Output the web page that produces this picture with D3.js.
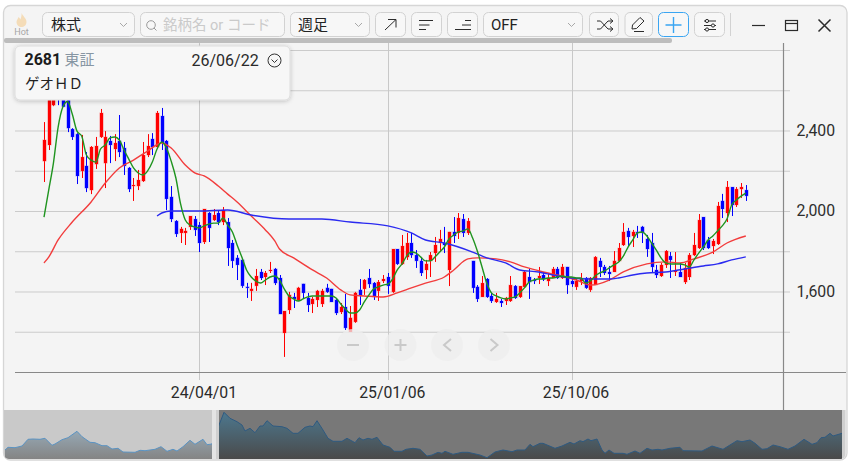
<!DOCTYPE html>
<html lang="ja">
<head>
<meta charset="utf-8">
<title>2681 週足</title>
<script src="https://cdn.jsdelivr.net/npm/d3@7/dist/d3.min.js"></script>
<style>
html,body{margin:0;padding:0;background:#fff;overflow:hidden}
svg{display:block}
text{font-family:Roboto,"Noto Sans CJK JP",sans-serif}
</style>
</head>
<body>
<svg id="chart" width="852" height="463"></svg>
<script>
// Weekly OHLC prices, oldest first
const opens = [
2247,2327,2525,2640,2620,2550,2406,2381,2198,2223,
2103,2232,2367,2237,2347,2307,2347,2312,2213,2123,
2123,2148,2277,2357,2317,2471,2347,2069,1949,1890,
1890,1920,1959,1929,1845,1989,1954,1989,1944,1944,
1840,1766,1756,1622,1602,1627,1696,1671,1701,1711,
1666,1393,1507,1572,1557,1637,1567,1537,1557,1537,
1617,1612,1557,1497,1522,1398,1448,1607,1612,1666,
1641,1602,1651,1671,1597,1810,1736,1770,1840,1780,
1751,1706,1751,1790,1840,1840,1706,1895,1890,1959,
1890,1751,1622,1572,1661,1577,1547,1552,1552,1552,
1626,1572,1622,1671,1656,1666,1681,1651,1666,1711,
1666,1721,1651,1622,1651,1666,1607,1631,1751,1721,
1696,1696,1751,1830,1900,1875,1895,1920,1860,1840,
1706,1676,1731,1775,1696,1696,1646,1671,1780,1815,
1969,1855,1825,1835,2049,1989,2118,2029,2108,2103];
const highs = [
2441,2620,2590,2650,2640,2560,2411,2386,2377,2292,
2322,2367,2506,2396,2372,2381,2476,2342,2218,2163,
2203,2342,2381,2386,2496,2511,2352,2123,1954,1920,
1915,1974,1974,1944,2009,1994,2009,1999,2019,1964,
1855,1780,1766,1642,1642,1711,1711,1701,1746,1716,
1681,1502,1597,1592,1622,1637,1592,1572,1607,1612,
1637,1612,1562,1542,1587,1527,1597,1661,1661,1711,
1646,1656,1681,1691,1810,1810,1880,1890,1890,1805,
1766,1756,1795,1870,1905,1920,1895,1969,1989,1984,
1964,1751,1631,1676,1666,1592,1592,1562,1572,1676,
1631,1626,1701,1711,1666,1721,1696,1691,1721,1721,
1736,1721,1666,1666,1691,1671,1671,1775,1766,1731,
1726,1800,1840,1939,1915,1905,1925,1925,1880,1890,
1731,1741,1805,1795,1795,1741,1741,1790,1890,1984,
1969,1870,1860,2044,2084,2148,2118,2118,2138,2128];
const lows = [
2143,2302,2520,2525,2516,2391,2352,2133,2163,2093,
2083,2208,2362,2113,2237,2247,2267,2178,2093,2049,
2103,2143,2267,2277,2312,2302,2004,1944,1870,1840,
1830,1905,1875,1795,1835,1845,1949,1929,1929,1726,
1716,1656,1617,1567,1552,1602,1656,1631,1691,1631,
1487,1274,1487,1517,1552,1562,1497,1492,1522,1522,
1592,1547,1482,1487,1408,1398,1443,1532,1582,1617,
1557,1552,1641,1587,1592,1731,1731,1756,1766,1716,
1676,1661,1671,1746,1795,1790,1626,1840,1860,1870,
1880,1592,1547,1572,1567,1542,1542,1522,1532,1547,
1562,1567,1622,1562,1636,1636,1651,1626,1666,1661,
1661,1587,1622,1607,1631,1612,1597,1631,1671,1681,
1651,1696,1746,1825,1825,1820,1865,1840,1771,1691,
1666,1671,1716,1666,1676,1671,1636,1656,1775,1810,
1805,1810,1785,1830,1964,1944,1974,2019,2064,2049];
const closes = [
2352,2600,2575,2590,2517,2411,2367,2173,2267,2113,
2317,2322,2486,2367,2327,2337,2292,2223,2108,2128,
2153,2277,2322,2317,2486,2337,2059,1959,1885,1910,
1900,1974,1905,1840,2009,1915,1979,1944,2004,1815,
1751,1731,1627,1617,1612,1676,1666,1691,1706,1641,
1487,1502,1582,1562,1617,1592,1532,1562,1602,1602,
1597,1547,1492,1522,1418,1468,1592,1577,1656,1636,
1572,1646,1661,1627,1810,1736,1825,1840,1780,1751,
1691,1736,1780,1830,1860,1830,1895,1875,1964,1890,
1949,1617,1562,1641,1572,1552,1562,1542,1567,1631,
1567,1626,1696,1646,1651,1676,1661,1666,1711,1666,
1721,1631,1636,1651,1666,1617,1666,1770,1721,1691,
1686,1751,1815,1895,1870,1895,1890,1890,1810,1721,
1681,1731,1800,1756,1703,1671,1716,1780,1830,1954,
1815,1815,1850,2024,2009,2118,2029,2108,2118,2074];

// Short moving average, one reading per candle
const maShort = [
1969,2103,2237,2416,2516,2543,2481,2396,2372,2277,
2252,2242,2307,2327,2362,2367,2352,2302,2257,2213,
2188,2178,2198,2242,2307,2342,2312,2247,2163,2034,
1954,1929,1920,1915,1925,1934,1939,1939,1964,1929,
1895,1830,1770,1706,1671,1651,1641,1656,1671,1676,
1656,1612,1577,1562,1552,1562,1572,1577,1577,1577,
1577,1577,1567,1537,1512,1492,1492,1507,1547,1582,
1612,1622,1631,1636,1661,1706,1736,1775,1795,1790,
1770,1751,1751,1770,1795,1820,1860,1880,1895,1900,
1910,1865,1800,1721,1641,1592,1577,1567,1562,1567,
1572,1592,1617,1646,1656,1661,1661,1666,1666,1671,
1676,1671,1671,1666,1666,1641,1651,1676,1691,1701,
1716,1731,1746,1775,1820,1855,1890,1895,1875,1840,
1805,1766,1741,1736,1736,1736,1731,1721,1756,1790,
1820,1855,1875,1900,1925,1959,2029,2054,2073,2088];

// Medium and long moving averages, read at the candle indices listed beside them
const maMediumIdx = [0,1,3,6,10,13,16,19,22,25,27,30,32,34,37,39,41,44,47,49,50,53,57,60,63,65,68,72,75,78,81,85,87,90,92,96,99,102,106,110,113,116,120,123,128,132,135,138,142,145,149];
const maMedium = [1741,1770,1855,1944,2044,2138,2213,2252,2297,2337,2312,2227,2188,2173,2123,2083,2044,1974,1905,1850,1810,1766,1706,1666,1607,1582,1577,1572,1592,1617,1641,1671,1706,1761,1766,1761,1746,1721,1696,1676,1656,1631,1656,1696,1736,1746,1741,1761,1795,1840,1875];
const maLongIdx = [24,25,27,33,39,44,52,59,65,73,78,81,85,91,94,98,101,105,108,112,116,120,122,125,128,132,136,140,143,146,149];
const maLong = [1974,1989,1999,1999,2004,1979,1959,1959,1944,1925,1890,1855,1840,1795,1766,1741,1706,1696,1681,1666,1661,1661,1666,1681,1691,1696,1711,1726,1736,1756,1771];

// Axis contents
const gridPrices = [1400,1600,1800,2000,2200,2400,2600,2800];
const labelPrices = [1600,2000,2400];
const dateTickIdx = [33,73,112];
const dateTickLabels = ["24/04/01","25/01/06","25/10/06"];

// Long history shown in the overview strip: week position and relative level
const historyWeek = [1,4,11,18,24,29,36,41,48,51,58,64,73,78,86,91,98,103,108,114,119,131,136,141,151,157,163,169,173,179,186,191,199,203,208,215,220,226,233,238,241,246,251,256,259,263,269,278,283,289,294,301,306,309,313,319,324,329,338,343,351,355,359,364,368,373,379,386,390,398,402,409,416,423,428,434,438,441,449,458,464,476,483,491,499,508,513,521,526,529,536,539,551,558,566,570,576,579,584,587,593,598,601,605,610,619,623,631,636,643,648,654,658,666,676,679,698,708,719,733,738,746,751,758,763,769,776,784,791,800,808,813,817,821,826,829,838];
const historyLevel = [9,11.7,11.3,13,19.7,20,19.7,20.7,13.7,15,19.3,21.3,27.7,22.3,16.7,16.3,13.3,13.3,10,10.7,7,6.7,8.7,8.3,9.7,12.3,7.7,9.7,8,12.3,18.7,14.7,19.7,14.3,15,34,46.7,40.7,37.3,34,28,30.7,26.3,33,33,38.3,33,32.3,30.7,25.7,25.7,31.7,33,32.3,38.3,29,20.7,17.7,17.7,20.7,16.3,21.3,19,20.7,19.7,21.7,14,11.7,7.7,7.7,9.7,10.7,9.7,3,4,6.7,5.7,7.7,4.7,6.7,6.7,4,1.3,7,9,7.3,9,9,14.7,12.3,15.7,15.7,10.7,13,16.7,15,18.3,17.3,20,18.3,20,9,5.7,9,5.7,5.7,4.7,8,5.7,10.7,9,9.7,9,10.7,11.7,8.3,8,13,9.7,18.3,17.3,19,15.7,9.7,10.3,14,12.3,9.7,13,19.7,14.7,16.3,21.3,21.7,25.7,23,25.7];

const svg = d3.select("#chart");
const defs = svg.append("defs");

// Scales for the price pane and the overview strip
const x = d3.scaleLinear().domain([0, opens.length - 1]).range([44, 745.8]);
const y = d3.scaleLinear().domain([1600, 2400]).range([291.3, 130.3]);
const histX = d3.scaleLinear().domain([0, 838]).range([4, 842]);
const histY = d3.scaleLinear().domain([0, 49]).range([459, 410]);

const BG = "#f4f4f4";
const crisp = v => Math.round(v) + 0.5;

// Window frame
svg.append("rect").attr("x", 3.5).attr("y", 5.5).attr("width", 843.5).attr("height", 454.5)
  .attr("rx", 7).attr("fill", BG).attr("stroke", "#d6d6d6").attr("stroke-width", 1.3);

// Grid
const pane = svg.append("g");
const hGrid = d3.axisRight(y).tickValues(gridPrices).tickSize(775).tickFormat("");
pane.append("g").attr("transform", "translate(15,0.2)").call(hGrid)
  .call(g => g.select(".domain").remove())
  .call(g => g.selectAll("line").attr("stroke", "#cbcbcb"));

pane.selectAll("line.vgrid").data(dateTickIdx).join("line").attr("class", "vgrid")
  .attr("x1", d => crisp(x(d))).attr("x2", d => crisp(x(d)))
  .attr("y1", 43).attr("y2", 380).attr("stroke", "#c8c8c8");

// Axis frame
pane.append("line").attr("x1", 15).attr("x2", 846).attr("y1", 372.5).attr("y2", 372.5).attr("stroke", "#888").attr("stroke-width", 1.2);
pane.append("line").attr("x1", 783.5).attr("x2", 783.5).attr("y1", 43).attr("y2", 410).attr("stroke", "#888").attr("stroke-width", 1.2);

// Candles
defs.append("clipPath").attr("id", "paneClip").append("rect")
  .attr("x", 15).attr("y", 43).attr("width", 768).attr("height", 329);
const candleLayer = svg.append("g").attr("clip-path", "url(#paneClip)");
const idx = d3.range(opens.length);
const isUp = i => closes[i] >= opens[i];
const body = 3.2;

candleLayer.selectAll("line.wick").data(idx).join("line").attr("class", "wick")
  .attr("x1", i => Math.round(x(i)) + 0.5).attr("x2", i => Math.round(x(i)) + 0.5)
  .attr("y1", i => y(highs[i])).attr("y2", i => y(lows[i]))
  .attr("stroke", i => isUp(i) ? "#f00" : "#00f").attr("stroke-width", 1);

candleLayer.selectAll("rect.body").data(idx).join("rect").attr("class", "body")
  .attr("x", i => Math.round(x(i)) + 0.5 - body / 2).attr("width", body)
  .attr("y", i => y(Math.max(opens[i], closes[i])))
  .attr("height", i => Math.max(1, Math.abs(y(opens[i]) - y(closes[i]))))
  .attr("fill", i => isUp(i) ? "#f00" : "#00f")
  .attr("stroke", i => isUp(i) ? "rgba(255,120,120,.28)" : "rgba(120,120,255,.28)")
  .attr("stroke-width", 1.4).attr("paint-order", "stroke");

// Moving averages
const lineGen = d3.line().x(d => x(d[0])).y(d => y(d[1])).curve(d3.curveMonotoneX);
const maLayer = svg.append("g").attr("clip-path", "url(#paneClip)").attr("fill", "none");
maLayer.append("path").attr("d", lineGen(d3.zip(maMediumIdx, maMedium))).attr("stroke", "#f23c3c").attr("stroke-width", 1.4);
maLayer.append("path").attr("d", lineGen(d3.zip(maLongIdx, maLong))).attr("stroke", "#2a2af0").attr("stroke-width", 1.4);
maLayer.append("path").attr("d", lineGen(d3.zip(idx, maShort))).attr("stroke", "#1f941f").attr("stroke-width", 1.4);

// Axis labels
const labelAxis = d3.axisRight(y).tickValues(labelPrices).tickSize(0).tickPadding(0).tickFormat(d3.format(","));
svg.append("g").attr("transform", "translate(796.5,0)").call(labelAxis)
  .call(g => g.select(".domain").remove())
  .call(g => g.selectAll("text").attr("font-size", 15.8).attr("fill", "#2e2e2e").style("font-family", "Roboto"));

svg.append("g").selectAll("text").data(dateTickIdx).join("text")
  .attr("x", d => x(d) + 4.5).attr("y", 397.5).attr("text-anchor", "middle")
  .attr("font-size", 15.8).attr("fill", "#2a2a2a")
  .text((d, i) => dateTickLabels[i]);

// Zoom and pan buttons floating over the pane
const zoomButtons = [353, 400.5, 447, 494];
svg.append("g").selectAll("circle").data(zoomButtons).join("circle")
  .attr("cx", d => d).attr("cy", 345).attr("r", 16).attr("fill", "#eeeeee").attr("opacity", .75);
const btn = svg.append("g").attr("fill", "none").attr("stroke", "#c9c9c9").attr("stroke-width", 2);
btn.append("path").attr("d", "M347 345H359");
btn.append("path").attr("d", "M394.5 345H406.5M400.5 339V351");
btn.append("path").attr("d", "M451 339L444 345L451 351");
btn.append("path").attr("d", "M490.5 339L497.5 345L490.5 351");

// Overview strip
const stripLeft = 4, stripSplitA = 212, stripSplitB = 219, stripRight = 842;
const gradL = defs.append("linearGradient").attr("id", "histL").attr("gradientUnits", "userSpaceOnUse")
  .attr("x1", 0).attr("x2", 0).attr("y1", 410).attr("y2", 459);
gradL.append("stop").attr("offset", 0).attr("stop-color", "#a4c4da");
gradL.append("stop").attr("offset", 1).attr("stop-color", "#848484");
const gradR = defs.append("linearGradient").attr("id", "histR").attr("gradientUnits", "userSpaceOnUse")
  .attr("x1", 0).attr("x2", 0).attr("y1", 410).attr("y2", 459);
gradR.append("stop").attr("offset", 0).attr("stop-color", "#4d7a92");
gradR.append("stop").attr("offset", 1).attr("stop-color", "#4a4a4a");

defs.append("clipPath").attr("id", "stripL").append("rect").attr("x", stripLeft).attr("y", 410).attr("width", stripSplitA - stripLeft).attr("height", 49);
defs.append("clipPath").attr("id", "stripR").append("rect").attr("x", stripSplitB).attr("y", 410).attr("width", stripRight - stripSplitB).attr("height", 49);
defs.append("clipPath").attr("id", "stripRound").append("rect").attr("x", 4).attr("y", 395).attr("width", 841.5).attr("height", 64).attr("rx", 5);
const strip = svg.append("g").attr("clip-path", "url(#stripRound)");

strip.append("rect").attr("x", stripLeft).attr("y", 410).attr("width", stripSplitA - stripLeft).attr("height", 49).attr("fill", "#c9c9c9");
strip.append("rect").attr("x", stripSplitB).attr("y", 410).attr("width", stripRight - stripSplitB).attr("height", 49).attr("fill", "#787878");
strip.append("rect").attr("x", stripSplitA).attr("y", 410).attr("width", stripSplitB - stripSplitA).attr("height", 49).attr("fill", "#e4e4e4");
strip.append("rect").attr("x", stripSplitA + 4).attr("y", 410).attr("width", 3).attr("height", 49).attr("fill", "#d0d0d0");
strip.append("rect").attr("x", stripRight).attr("y", 410).attr("width", 4).attr("height", 49).attr("fill", "#cfcfcf");

const hist = d3.zip(historyWeek, historyLevel);
const histArea = d3.area().x(d => histX(d[0])).y0(459).y1(d => histY(d[1]));
const histLine = d3.line().x(d => histX(d[0])).y(d => histY(d[1]));
strip.append("path").attr("clip-path", "url(#stripL)").attr("d", histArea(hist)).attr("fill", "url(#histL)");
strip.append("path").attr("clip-path", "url(#stripL)").attr("d", histLine(hist)).attr("fill", "none").attr("stroke", "#5b93c2");
strip.append("path").attr("clip-path", "url(#stripR)").attr("d", histArea(hist)).attr("fill", "url(#histR)");
strip.append("path").attr("clip-path", "url(#stripR)").attr("d", histLine(hist)).attr("fill", "none").attr("stroke", "#2f5a80");

// Info card with a soft shadow
const shadow = defs.append("filter").attr("id", "cardShadow").attr("x", "-5%").attr("y", "-20%").attr("width", "110%").attr("height", "140%");
shadow.append("feDropShadow").attr("dx", 0).attr("dy", 1).attr("stdDeviation", 2).attr("flood-color", "#000").attr("flood-opacity", .22);
svg.append("rect").attr("x", 15).attr("y", 46).attr("width", 275).attr("height", 54).attr("rx", 5)
  .attr("fill", "#f7f7f7").attr("stroke", "#dddddd").attr("filter", "url(#cardShadow)");
svg.append("text").attr("x", 24.5).attr("y", 65).attr("font-size", 16).attr("font-weight", 700).attr("fill", "#1c1c1c").text("2681");
svg.append("text").attr("x", 64.5).attr("y", 65).attr("font-size", 15).attr("fill", "#8796a3").text("東証");
svg.append("text").attr("x", 191.5).attr("y", 65.5).attr("font-size", 16).attr("fill", "#2a2a2a").text("26/06/22");
svg.append("circle").attr("cx", 274.5).attr("cy", 60.5).attr("r", 6.5).attr("fill", "none").attr("stroke", "#333");
svg.append("path").attr("d", "M271.5 59.5L274.5 62.5L277.5 59.5").attr("fill", "none").attr("stroke", "#333");
svg.append("text").attr("x", 25).attr("y", 89).attr("font-size", 14.5).attr("fill", "#222").text("ゲオＨＤ");

// Scrollbar under the toolbar
svg.append("rect").attr("x", 4).attr("y", 38).attr("width", 668).attr("height", 5).attr("rx", 2).attr("fill", "#bdbdbd");

// Toolbar controls
const toolbar = svg.append("g");
const controls = [
  [42, 134], [140, 284], [290, 369], [375, 405], [411, 441], [447, 477],
  [483, 582], [589, 618], [624.5, 652], [694, 724]
];
toolbar.selectAll("rect.ctl").data(controls).join("rect").attr("class", "ctl")
  .attr("x", d => d[0] + 0.5).attr("y", 12.5).attr("width", d => d[1] - d[0]).attr("height", 24).attr("rx", 5)
  .attr("fill", "#f7f7f7").attr("stroke", "#d2d2d2");
toolbar.append("rect").attr("x", 658.5).attr("y", 12.5).attr("width", 30).attr("height", 24).attr("rx", 5)
  .attr("fill", "#f7f7f7").attr("stroke", "#3aa5f2");
toolbar.append("path").attr("d", "M730.5 13V36").attr("stroke", "#d2d2d2");

const tbText = (tx, s, fill, extra) => toolbar.append("text").attr("x", tx).attr("y", 29.5)
  .attr("font-size", 15).attr("fill", fill).text(s).call(t => extra && extra(t));
tbText(51, "株式", "#222");
tbText(163, "銘柄名 or コード", "#cacaca", t => t.attr("font-size", 14.5));
tbText(298, "週足", "#222");
tbText(491, "OFF", "#222");

// Select chevrons
const chevrons = [123.5, 358.5, 571.5];
toolbar.selectAll("path.chev").data(chevrons).join("path").attr("class", "chev")
  .attr("d", d => `M${d - 3.5} 23L${d} 26.5L${d + 3.5} 23`).attr("fill", "none").attr("stroke", "#a8a8a8");

// Toolbar icons
const ic = toolbar.append("g").attr("fill", "none").attr("stroke", "#2b2b2b");
ic.append("circle").attr("cx", 151).attr("cy", 25).attr("r", 4.3).attr("stroke", "#9a9a9a");
ic.append("path").attr("d", "M154 28L156.5 30.5").attr("stroke", "#9a9a9a");
ic.append("path").attr("d", "M385 30L396 19.5M388 19.5H396V27.5");
ic.append("path").attr("d", "M419 20.5H433M419 25H429.5M419 29.5H426");
ic.append("path").attr("d", "M455 29.5H471M462 25H471M465 20.5H471");
ic.append("path").attr("d", "M597 21H600.5L608 29H612M597 29H600.5L608 21H612M610 18.5L613 21L610 23.5M610 26.5L613 29L610 31.5");
ic.append("path").attr("d", "M632 29L632.5 25L640 17.5L644 21L636.5 28.5L632 29M634 31.5H644");
ic.append("path").attr("d", "M673.5 17V33M665.5 25H681.5").attr("stroke", "#3aa5f2").attr("stroke-width", 1.4);
ic.append("path").attr("d", "M704 21H716M704 25.5H716M704 29.5H716");
ic.selectAll("circle.knob").data([[707, 21], [713, 25.5], [707, 29.5]]).join("circle").attr("class", "knob")
  .attr("cx", d => d[0]).attr("cy", d => d[1]).attr("r", 1.6).attr("fill", "#f7f7f7");

// Hot badge
toolbar.append("path").attr("d", "M21.5 13C22.5 16 26.5 18 26.5 22C26.5 25 24 27 21.5 27C19 27 16.5 25 16.5 22C16.5 20 18 19 18.5 17C19.5 18 20 18.5 20.3 19.5C21.3 17.5 21.8 15 21.5 13Z").attr("fill", "#f4dcb8");
toolbar.append("text").attr("x", 21.5).attr("y", 35).attr("text-anchor", "middle").attr("font-size", 9).attr("fill", "#a6a6a6").text("Hot");

// Window controls
const wc = svg.append("g").attr("fill", "none").attr("stroke", "#2b2b2b").attr("stroke-width", 1.2);
wc.append("path").attr("d", "M752 25.5H765");
wc.append("rect").attr("x", 785.5).attr("y", 20.5).attr("width", 12).attr("height", 10);
wc.append("path").attr("d", "M785.5 23.5H797.5");
wc.append("path").attr("d", "M818.5 19.5L830.5 31.5M830.5 19.5L818.5 31.5").attr("stroke-width", 1.5);
</script>
</body>
</html>
